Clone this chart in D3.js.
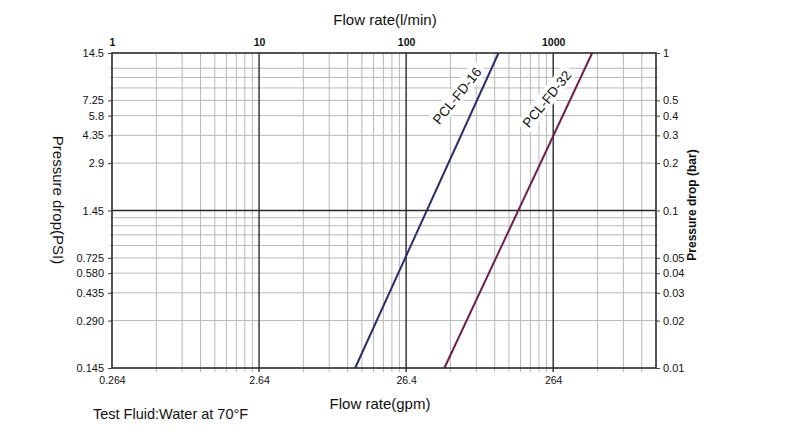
<!DOCTYPE html>
<html>
<head>
<meta charset="utf-8">
<script src="https://cdn.jsdelivr.net/npm/d3@7"></script>
<style>
    body { margin: 0; background: #fff; }
    text { font-family: Arial, "Liberation Sans", sans-serif; fill: #111; }
</style>
</head>
<body>
<div id="chart"></div>
<script>
// Data: flow in l/min, pressure drop in bar
var seriesNames = ["PCL-FD-16", "PCL-FD-32"];
var seriesColors = ["#2a2e68", "#6d2148"];
var fd16Flow = [45, 425];
var fd16Bar = [0.01, 1];
var fd32Flow = [182, 1840];
var fd32Bar = [0.01, 1];
// where the rotated series labels sit (flow, bar)
var labelFlow = [222, 905];
var labelBar = [0.535, 0.51];

// Tick labels
var topTicks = [1, 10, 100, 1000];
var bottomTicks = ["0.264", "2.64", "26.4", "264"];
var barTicks = [1, 0.5, 0.4, 0.3, 0.2, 0.1, 0.05, 0.04, 0.03, 0.02, 0.01];
var barLabels = ["1", "0.5", "0.4", "0.3", "0.2", "0.1", "0.05", "0.04", "0.03", "0.02", "0.01"];
var psiLabels = ["14.5", "7.25", "5.8", "4.35", "2.9", "1.45", "0.725", "0.580", "0.435", "0.290", "0.145"];

// Grid lines
var majorFlow = [10, 100, 1000];
var minorFlow = [2, 3, 4, 5, 6, 7, 8, 9, 20, 30, 40, 50, 60, 70, 80, 90,
                 200, 300, 400, 500, 600, 700, 800, 900, 2000, 3000, 4000];
var majorBar = [0.1];
var minorBar = [0.8, 0.7, 0.6, 0.5, 0.4, 0.3, 0.2, 0.09, 0.08, 0.07, 0.06, 0.05, 0.04, 0.03, 0.02];

var svgWidth = 809;
var svgHeight = 433;

var margin = { top: 53, bottom: 65, left: 112, right: 153 };
var chartWidth = svgWidth - margin.left - margin.right;
var chartHeight = svgHeight - margin.top - margin.bottom;

var svg = d3.select("#chart")
    .append("svg")
    .attr("width", svgWidth)
    .attr("height", svgHeight);

var chartGroup = svg.append("g")
    .attr("transform", `translate(${margin.left}, ${margin.top})`);

// Scales
var xScale = d3.scaleLog().domain([1, 5000]).range([0, chartWidth]);
var yScale = d3.scaleLog().domain([0.01, 1]).range([chartHeight, 0]);
var lpmToGpm = 0.264;
var barToPsi = 14.5;

// Minor grid
chartGroup.selectAll(".vminor")
    .data(minorFlow)
    .enter()
    .append("line")
    .attr("x1", d => xScale(d)).attr("x2", d => xScale(d))
    .attr("y1", 0).attr("y2", chartHeight + 4)
    .attr("stroke", "#b8b8b8")
    .attr("stroke-width", 1);

chartGroup.selectAll(".hminor")
    .data(minorBar)
    .enter()
    .append("line")
    .attr("x1", -2).attr("x2", chartWidth + 2)
    .attr("y1", d => yScale(d)).attr("y2", d => yScale(d))
    .attr("stroke", "#b8b8b8")
    .attr("stroke-width", 1);

// Major grid
chartGroup.selectAll(".vmajor")
    .data(majorFlow)
    .enter()
    .append("line")
    .attr("x1", d => xScale(d)).attr("x2", d => xScale(d))
    .attr("y1", 0).attr("y2", chartHeight + 4)
    .attr("stroke", "#2a2a2a")
    .attr("stroke-width", 1.4);

chartGroup.selectAll(".hmajor")
    .data(majorBar)
    .enter()
    .append("line")
    .attr("x1", 0).attr("x2", chartWidth)
    .attr("y1", d => yScale(d)).attr("y2", d => yScale(d))
    .attr("stroke", "#2a2a2a")
    .attr("stroke-width", 1.4);

// Series lines
var series = [
    { name: seriesNames[0], flow: fd16Flow, bar: fd16Bar, color: seriesColors[0] },
    { name: seriesNames[1], flow: fd32Flow, bar: fd32Bar, color: seriesColors[1] }
];

var line = d3.line()
    .x(d => xScale(d[0]))
    .y(d => yScale(d[1]));

chartGroup.selectAll(".series")
    .data(series)
    .enter()
    .append("path")
    .attr("d", d => line(d.flow.map((f, i) => [f, d.bar[i]])))
    .attr("fill", "none")
    .attr("stroke", d => d.color)
    .attr("stroke-width", 2);

// Series labels with white backing
var labelGroups = chartGroup.selectAll(".serieslabel")
    .data(series)
    .enter()
    .append("g")
    .attr("transform", (d, i) => `translate(${xScale(labelFlow[i])}, ${yScale(labelBar[i])}) rotate(-51)`);

labelGroups.append("rect")
    .attr("x", -38).attr("y", -9)
    .attr("width", 76).attr("height", 17)
    .attr("fill", "#fff");

labelGroups.append("text")
    .attr("text-anchor", "middle")
    .attr("dy", "0.35em")
    .attr("font-size", 13.5)
    .text(d => d.name);

// Frame
chartGroup.append("rect")
    .attr("width", chartWidth)
    .attr("height", chartHeight)
    .attr("fill", "none")
    .attr("stroke", "#2a2a2a")
    .attr("stroke-width", 1.6);

// Top axis (l/min)
var topAxis = d3.axisTop(xScale)
    .tickValues(topTicks)
    .tickSize(0)
    .tickPadding(7)
    .tickFormat(d3.format("d"));
chartGroup.append("g")
    .call(topAxis)
    .call(g => g.select(".domain").remove())
    .selectAll("text")
    .attr("font-size", 10.5)
    .style("font-weight", "bold")
    .attr("fill", "#222");

// Bottom axis (gpm)
var gpmScale = d3.scaleLog()
    .domain([1 * lpmToGpm, 5000 * lpmToGpm])
    .range([0, chartWidth]);
var bottomAxis = d3.axisBottom(gpmScale)
    .tickValues(bottomTicks.map(Number))
    .tickSize(0)
    .tickPadding(9)
    .tickFormat((d, i) => bottomTicks[i]);
chartGroup.append("g")
    .attr("transform", `translate(0, ${chartHeight})`)
    .call(bottomAxis)
    .call(g => g.select(".domain").remove())
    .selectAll("text")
    .attr("font-size", 10.5)
    .attr("fill", "#222");

// Left axis (PSI)
var psiScale = d3.scaleLog()
    .domain([0.01 * barToPsi, 1 * barToPsi])
    .range([chartHeight, 0]);
var leftAxis = d3.axisLeft(psiScale)
    .tickValues(psiLabels.map(Number))
    .tickSize(4)
    .tickPadding(4)
    .tickFormat((d, i) => psiLabels[i]);
chartGroup.append("g")
    .call(leftAxis)
    .call(g => g.select(".domain").remove())
    .call(g => g.selectAll("line").attr("stroke", "#444"))
    .selectAll("text")
    .attr("font-size", 11)
    .attr("fill", "#222");

// Right axis (bar)
var rightAxis = d3.axisRight(yScale)
    .tickValues(barTicks)
    .tickSize(4)
    .tickPadding(3)
    .tickFormat((d, i) => barLabels[i]);
chartGroup.append("g")
    .attr("transform", `translate(${chartWidth}, 0)`)
    .call(rightAxis)
    .call(g => g.select(".domain").remove())
    .call(g => g.selectAll("line").attr("stroke", "#444"))
    .selectAll("text")
    .attr("font-size", 11)
    .attr("fill", "#222");

// Axis titles
svg.append("text")
    .attr("x", 385).attr("y", 25)
    .attr("text-anchor", "middle")
    .attr("font-size", 15)
    .text("Flow rate(l/min)");

svg.append("text")
    .attr("x", 380).attr("y", 409)
    .attr("text-anchor", "middle")
    .attr("font-size", 15)
    .text("Flow rate(gpm)");

svg.append("text")
    .attr("transform", "translate(53, 200) rotate(90)")
    .attr("text-anchor", "middle")
    .attr("font-size", 15)
    .text("Pressure drop(PSI)");

svg.append("text")
    .attr("transform", "translate(696, 205) rotate(-90)")
    .attr("text-anchor", "middle")
    .attr("font-size", 12)
    .style("font-weight", "bold")
    .text("Pressure drop (bar)");

svg.append("text")
    .attr("x", 93).attr("y", 419)
    .attr("font-size", 14.5)
    .text("Test Fluid:Water at 70°F");
</script>
</body>
</html>
